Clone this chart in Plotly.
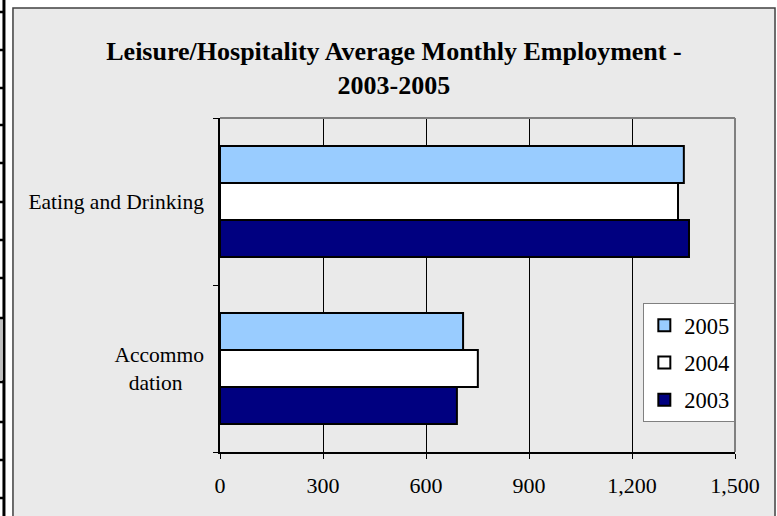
import plotly.graph_objects as go

# Data (thousands)
categories = ["Accommo<br>dation\u00a0\u00a0\u00a0\u00a0", "Eating and Drinking"]
years = ["2003", "2004", "2005"]
values = {
    "2003": [690, 1366],
    "2004": [751, 1334],
    "2005": [708, 1351],
}
colors = {"2003": "#000080", "2004": "#ffffff", "2005": "#99ccff"}
legend_rank = {"2005": 1, "2004": 2, "2003": 3}

FONT = "Liberation Serif"

fig = go.Figure()
for yr in years:
    fig.add_trace(go.Bar(
        y=categories,
        x=values[yr],
        name=yr,
        orientation="h",
        legendgroup=yr,
        legendrank=legend_rank[yr],
        marker=dict(color=colors[yr], line=dict(color="black", width=2)),
    ))

# document-ish frame around the chart (grey panel)
fig.add_shape(type="rect", xref="paper", yref="paper",
              x0=-0.402, x1=1.0777, y0=-0.25, y1=1.329,
              fillcolor="#eaeaea", line=dict(color="#404040", width=1.5),
              layer="below")
# table border on the far left
fig.add_shape(type="line", xref="paper", yref="paper",
              x0=-0.4195, x1=-0.4195, y0=-0.25, y1=1.4,
              line=dict(color="black", width=3))
fig.add_shape(type="rect", xref="paper", yref="paper",
              x0=-0.4272, x1=-0.4215, y0=(452 - 380) / 334, y1=(452 - 318) / 334,
              fillcolor="#c0c0c0", line=dict(width=0))
for yy in [12, 50, 88, 125, 163, 202, 240, 278, 318, 382, 422, 460, 498]:
    fig.add_shape(type="line", xref="paper", yref="paper",
                  x0=-0.4272, x1=-0.4195, y0=(452 - yy) / 334, y1=(452 - yy) / 334,
                  line=dict(color="black", width=2.5))
# grey top/right plot border
fig.add_shape(type="line", xref="paper", yref="paper", x0=0, x1=1, y0=1, y1=1,
              line=dict(color="#808080", width=2))
fig.add_shape(type="line", xref="paper", yref="paper", x0=1, x1=1, y0=0, y1=1,
              line=dict(color="#808080", width=2))

fig.update_layout(
    width=777, height=516,
    margin=dict(l=220, r=42, t=118, b=64),
    paper_bgcolor="white",
    plot_bgcolor="white",
    barmode="group",
    bargap=0.335,
    bargroupgap=0,
    font=dict(family=FONT, size=21.5, color="black"),
    title=dict(
        text="<b>Leisure/Hospitality Average Monthly Employment -<br>2003-2005</b>",
        font=dict(family=FONT, size=26, color="black"),
        x=0.507, xanchor="center", xref="container",
        y=0.884, yanchor="top", yref="container",
    ),
    xaxis=dict(
        range=[0, 1500], dtick=300, tickformat=",",
        showgrid=True, gridcolor="black", gridwidth=1,
        showline=True, linecolor="black", linewidth=1.5,
        ticks="outside", ticklen=5, tickcolor="black",
        ticklabelstandoff=8, zeroline=False,
        tickfont=dict(family=FONT, size=22),
    ),
    yaxis=dict(
        type="category",
        showgrid=False,
        showline=True, linecolor="black", linewidth=1.5,
        ticks="outside", ticklen=5, tickcolor="black",
        tickson="boundaries",
        ticklabelstandoff=10,
        tickfont=dict(family=FONT, size=21.5),
    ),
    legend=dict(
        x=0.822, y=0.446, xanchor="left", yanchor="top",
        bgcolor="white", bordercolor="#808080", borderwidth=1,
        traceorder="grouped", tracegroupgap=5,
        font=dict(family=FONT, size=22.5),
    ),
    showlegend=True,
)

fig.write_html("out.html", config={"displayModeBar": False},
               post_script="document.body.style.margin='0px';")
